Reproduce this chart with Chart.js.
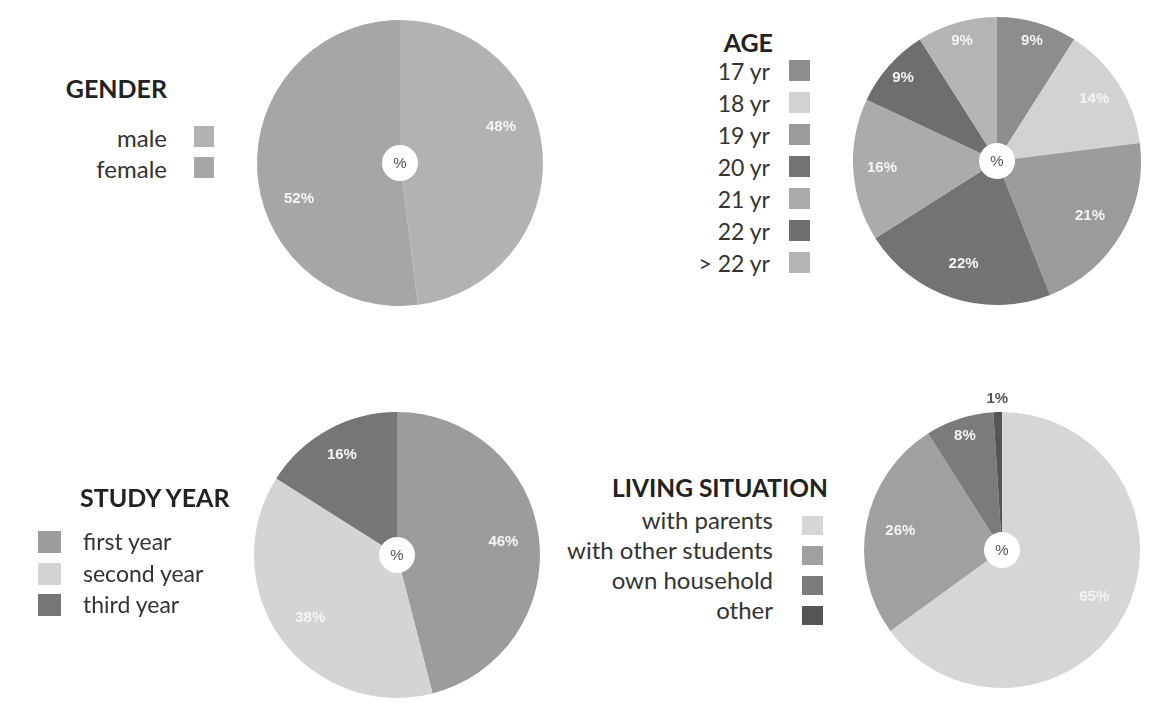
<!DOCTYPE html>
<html>
<head>
<meta charset="utf-8">
<script src="https://cdn.jsdelivr.net/npm/chart.js@4.4.1/dist/chart.umd.min.js"></script>
<style>
  html, body { margin: 0; padding: 0; background: #fff; }
  body { width: 1157px; height: 709px; position: relative; overflow: hidden; font-family: Lato, "Open Sans", sans-serif; }
  canvas { position: absolute; }
  .title { position: absolute; font-weight: bold; color: #222; line-height: 1; white-space: nowrap; }
  .row { position: absolute; color: #333; white-space: nowrap; }
  .sw { position: absolute; }
</style>
</head>
<body>
<script>
// values (percent)
const genderLabels = ['male', 'female'];
const genderValues = [48, 52];
const genderColors = ['#b2b2b2', '#a6a6a6'];

const ageLabels = ['17 yr', '18 yr', '19 yr', '20 yr', '21 yr', '22 yr', '> 22 yr'];
const ageValues = [9, 14, 21, 22, 16, 9, 9];
const ageColors = ['#8d8d8d', '#d2d2d2', '#9b9b9b', '#737373', '#ababab', '#6e6e6e', '#b4b4b4'];

const studyLabels = ['first year', 'second year', 'third year'];
const studyValues = [46, 38, 16];
const studyColors = ['#9c9c9c', '#d4d4d4', '#767676'];

const livingLabels = ['with parents', 'with other students', 'own household', 'other'];
const livingValues = [65, 26, 8, 1];
const livingColors = ['#d6d6d6', '#a0a0a0', '#7b7b7b', '#555555'];

// draws the % labels and the little "%" in the hole
const pieText = {
    id: 'pieText',
    afterDatasetsDraw(chart, args, opts) {
        const ctx = chart.ctx;
        const meta = chart.getDatasetMeta(0);
        const vals = chart.data.datasets[0].data;
        const shift = (opts.shift || 0) * Math.PI / 180;
        ctx.save();
        ctx.textAlign = 'center';
        ctx.textBaseline = 'middle';
        meta.data.forEach((arc, i) => {
            const v = vals[i];
            const mid = (arc.startAngle + arc.endAngle) / 2 + shift;
            let r, col;
            if (v <= 2) { r = arc.outerRadius + 13; col = '#555'; }
            else if (v < 12) { r = arc.outerRadius * 0.87; col = '#f4f4f4'; }
            else if (v < 20) { r = arc.outerRadius * 0.8; col = '#f4f4f4'; }
            else { r = arc.outerRadius * 0.75; col = '#f4f4f4'; }
            ctx.fillStyle = col;
            ctx.font = 'bold 15px "Liberation Sans", Arial, sans-serif';
            ctx.fillText(v + '%', arc.x + Math.cos(mid) * r, arc.y + Math.sin(mid) * r);
        });
        const a = meta.data[0];
        ctx.fillStyle = '#555';
        ctx.font = '15px "Liberation Sans", Arial, sans-serif';
        ctx.fillText('%', a.x, a.y + 1);
        ctx.restore();
    }
};

function makePie(values, labels, colors, cx, cy, r, shift) {
    const pad = 26;
    const c = document.createElement('canvas');
    c.width = 2 * (r + pad);
    c.height = 2 * (r + pad);
    c.style.left = (cx - r - pad) + 'px';
    c.style.top = (cy - r - pad) + 'px';
    document.body.appendChild(c);
    return new Chart(c, {
        type: 'doughnut',
        data: {
            labels: labels,
            datasets: [{ data: values, backgroundColor: colors, borderWidth: 0, hoverOffset: 0 }]
        },
        options: {
            responsive: false,
            animation: false,
            cutout: 18,
            layout: { padding: pad },
            plugins: {
                legend: { display: false },
                tooltip: { enabled: false },
                pieText: { shift: shift || 0 }
            },
            events: []
        },
        plugins: [pieText]
    });
}

function makeLegend(title, labels, colors, o) {
    const t = document.createElement('div');
    t.className = 'title';
    t.textContent = title;
    t.style.fontSize = o.titleSize + 'px';
    t.style.top = o.titleTop + 'px';
    if (o.titleRight !== undefined) { t.style.right = (1157 - o.titleRight) + 'px'; }
    else { t.style.left = o.titleLeft + 'px'; }
    document.body.appendChild(t);
    labels.forEach((lab, i) => {
        const top = o.rowTop + i * o.rowH;
        const d = document.createElement('div');
        d.className = 'row';
        d.textContent = lab;
        d.style.fontSize = o.size + 'px';
        d.style.lineHeight = o.rowH + 'px';
        d.style.top = top + 'px';
        if (o.textRight !== undefined) { d.style.right = (1157 - o.textRight) + 'px'; }
        else { d.style.left = o.textLeft + 'px'; }
        document.body.appendChild(d);
        const s = document.createElement('div');
        s.className = 'sw';
        s.style.background = colors[i];
        s.style.left = o.swX + 'px';
        s.style.top = (top + o.swOff) + 'px';
        s.style.width = o.swW + 'px';
        s.style.height = o.swH + 'px';
        document.body.appendChild(s);
    });
}

makePie(genderValues, genderLabels, genderColors, 400, 163, 143, -16);
makePie(ageValues, ageLabels, ageColors, 997, 161, 144);
makePie(studyValues, studyLabels, studyColors, 397, 555, 143);
makePie(livingValues, livingLabels, livingColors, 1002, 550, 138);

makeLegend('GENDER', genderLabels, genderColors, {
    titleSize: 25, titleTop: 76, titleRight: 167,
    size: 24, rowTop: 121.5, rowH: 31, textRight: 167,
    swX: 194, swOff: 4.5, swW: 20, swH: 21
});
makeLegend('AGE', ageLabels, ageColors, {
    titleSize: 25, titleTop: 30, titleRight: 773,
    size: 23, rowTop: 55, rowH: 32, textRight: 770,
    swX: 789, swOff: 5, swW: 21, swH: 21
});
makeLegend('STUDY YEAR', studyLabels, studyColors, {
    titleSize: 25, titleTop: 485, titleLeft: 80,
    size: 23, rowTop: 526, rowH: 31.5, textLeft: 83,
    swX: 38, swOff: 5, swW: 23, swH: 22
});
makeLegend('LIVING SITUATION', livingLabels, livingColors, {
    titleSize: 24.5, titleTop: 476, titleRight: 828,
    size: 24, rowTop: 504.5, rowH: 30, textRight: 773,
    swX: 802, swOff: 11.5, swW: 21, swH: 19
});
</script>
</body>
</html>
